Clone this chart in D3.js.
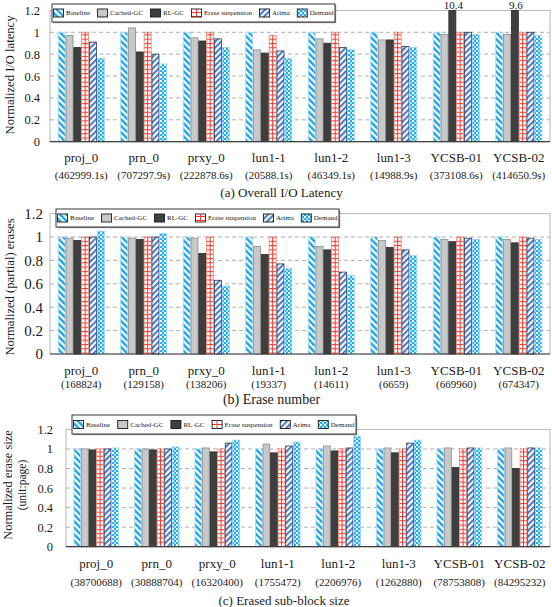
<!DOCTYPE html>
<html><head><meta charset="utf-8">
<script src="https://cdn.jsdelivr.net/npm/d3@7/dist/d3.min.js"></script>
<style>
body{margin:0;background:#fff}
svg{display:block}
text{font-family:"Liberation Serif","Times New Roman",serif;fill:#1a1a1a}
</style>
</head><body><svg id="c" width="552" height="607"></svg>
<script>
// ---------- data ----------
const seriesNames = ["Baseline","Cached-GC","RL-GC","Erase suspension","Arima","Demand"];
const workloads = ["proj_0","prn_0","prxy_0","lun1-1","lun1-2","lun1-3","YCSB-01","YCSB-02"];
const latencyTotals = ["(462999.1s)","(707297.9s)","(222878.6s)","(20588.1s)","(46349.1s)","(14988.9s)","(373108.6s)","(414650.9s)"];
const eraseTotals = ["(168824)","(129158)","(138206)","(19337)","(14611)","(6659)","(669960)","(674347)"];
const sizeTotals = ["(38700688)","(30888704)","(16320400)","(1755472)","(2206976)","(1262880)","(78753808)","(84295232)"];
const yTicks = [0,0.2,0.4,0.6,0.8,1,1.2];

// (a) normalized I/O latency
const latBaseline = [1,1,1,1,1,1,1,1];
const latCachedGC = [0.97,1.04,0.95,0.84,0.94,0.93,0.98,0.98];
const latRLGC     = [0.86,0.82,0.92,0.81,0.90,0.93,10.4,9.6];
const latErase    = [1,1,1,0.97,1,1,1,1];
const latArima    = [0.91,0.80,0.94,0.83,0.86,0.87,1.0,1.0];
const latDemand   = [0.76,0.71,0.86,0.76,0.84,0.86,0.98,0.97];

// (b) normalized (partial) erases
const ersBaseline = [1,1,1,1,1,1,1,1];
const ersCachedGC = [0.99,0.99,0.99,0.92,0.92,0.97,0.98,0.98];
const ersRLGC     = [0.97,0.98,0.86,0.85,0.89,0.91,0.96,0.95];
const ersErase    = [1,1,1,1,1,1,1,1];
const ersArima    = [1.0,1.0,0.63,0.77,0.70,0.89,0.99,0.99];
const ersDemand   = [1.05,1.03,0.58,0.73,0.67,0.84,0.98,0.98];

// (c) normalized erase size
const sizBaseline = [1,1,1,1,1,1,1,1];
const sizCachedGC = [1.0,1.0,1.01,1.05,1.03,1.01,1.01,1.01];
const sizRLGC     = [0.99,0.99,0.97,0.96,0.98,0.96,0.81,0.80];
const sizErase    = [1,1,1,1,1,1,1,1];
const sizArima    = [1.0,1.0,1.06,1.03,1.01,1.06,1.01,1.01];
const sizDemand   = [1.01,1.02,1.09,1.07,1.13,1.09,1.01,1.01];

// ---------- drawing ----------
const svg = d3.select("#c");
const defs = svg.append("defs");

function stripes(id, color, angle, period, thick){
  const p = defs.append("pattern").attr("id",id).attr("patternUnits","userSpaceOnUse")
    .attr("width",period).attr("height",period).attr("patternTransform",`rotate(${angle})`);
  p.append("rect").attr("width",period).attr("height",period).attr("fill","#fff");
  p.append("rect").attr("width",thick).attr("height",period).attr("fill",color);
}
stripes("pBase","#1ea4e4",-45,4.6,2.4);
stripes("pArima","#4a7bc8",45,4.2,2.1);
const pc = defs.append("pattern").attr("id","pDemand").attr("patternUnits","userSpaceOnUse").attr("width",4).attr("height",4);
pc.append("rect").attr("width",4).attr("height",4).attr("fill","#22aeea");
pc.append("rect").attr("width",2).attr("height",2).attr("fill","#ffffff");
pc.append("rect").attr("x",2).attr("y",2).attr("width",2).attr("height",2).attr("fill","#a6e0f8");
const pe = defs.append("pattern").attr("id","pErase").attr("patternUnits","userSpaceOnUse").attr("width",4).attr("height",4.3);
pe.append("rect").attr("width",4).attr("height",4.3).attr("fill","#fff");
pe.append("rect").attr("width",4).attr("height",1).attr("fill","#f2382a");
const pe2 = defs.append("pattern").attr("id","pEraseIcon").attr("patternUnits","userSpaceOnUse").attr("width",10).attr("height",4);
pe2.append("rect").attr("width",10).attr("height",4).attr("fill","#fff");
pe2.append("rect").attr("width",10).attr("height",1).attr("fill","#f2382a");

const styles = [
  {fill:"url(#pBase)", stroke:"#a9d9f2"},
  {fill:"#c8c8c8", stroke:"#8c8c8c"},
  {fill:"#3f3f3f", stroke:"#2a2a2a"},
  {fill:"url(#pErase)", stroke:"#f07a6c"},
  {fill:"url(#pArima)", stroke:"#2c3a58"},
  {fill:"url(#pDemand)", stroke:"#8fd4f2"}
];

const panels = [
  {series:[latBaseline,latCachedGC,latRLGC,latErase,latArima,latDemand], subs:latencyTotals,
   left:50, right:550, top:10.4, bottom:141.7, tickFont:12.5, tickPad:10,
   nameY:157, subY:175, capY:192, capX:281.5, capFont:13, caption:"(a) Overall I/O Latency",
   ylab:["Normalized I/O latency"], ylabX:[10], ylabY:75, ylabFont:[12.6],
   legend:{x:52,y:4,w:283,h:18}, overflow:true},
  {series:[ersBaseline,ersCachedGC,ersRLGC,ersErase,ersArima,ersDemand], subs:eraseTotals,
   left:50, right:550, top:213.6, bottom:354, tickFont:15, tickPad:7,
   nameY:370, subY:384, capY:399, capX:271.5, capFont:14, caption:"(b) Erase number",
   ylab:["Normalized (partial) erases"], ylabX:[10], ylabY:287, ylabFont:[12.6],
   legend:{x:56,y:209,w:283,h:18}},
  {series:[sizBaseline,sizCachedGC,sizRLGC,sizErase,sizArima,sizDemand], subs:sizeTotals,
   left:66, right:550, top:429.4, bottom:546.7, tickFont:12.5, tickPad:13,
   nameY:563, subY:582, capY:600, capX:284, capFont:13, caption:"(c) Erased sub-block size",
   ylab:["Normalized erase size","(unit:page)"], ylabX:[8,22], ylabY:485, ylabFont:[12.4,11.5],
   legend:{x:72,y:415,w:284,h:19}}
];

panels.forEach(P => {
  const g = svg.append("g");
  const x0 = d3.scaleBand().domain(workloads).range([P.left,P.right]).paddingInner(0.25).paddingOuter(0.125);
  const x1 = d3.scaleBand().domain(d3.range(seriesNames.length)).range([0,x0.bandwidth()]).padding(0);
  const y = d3.scaleLinear().domain([0,1.2]).range([P.bottom,P.top]).clamp(true);

  // frame
  g.append("rect").attr("x",P.left).attr("y",y(1.2)).attr("width",P.right-P.left).attr("height",y(0)-y(1.2))
    .attr("fill","none").attr("stroke","#b8b8b8").attr("stroke-width",1);
  // grid
  g.selectAll(".grid").data(yTicks.filter(t=>t>0&&t<1.2)).join("line")
    .attr("x1",P.left).attr("x2",P.right).attr("y1",d=>y(d)).attr("y2",d=>y(d))
    .attr("stroke","#9a9a9a").attr("stroke-dasharray","4,3").attr("stroke-width",0.8);

  // bars
  const rows = [];
  workloads.forEach((w,i)=>P.series.forEach((s,k)=>rows.push({w, k, v:s[i]})));
  const bars = g.append("g");
  bars.selectAll("rect").data(rows).join("rect")
    .attr("x",d=>x0(d.w)+x1(d.k)+0.4).attr("width",x1.bandwidth()-0.8)
    .attr("y",d=>y(d.v)).attr("height",d=>y(0)-y(d.v))
    .attr("fill",d=>styles[d.k].fill).attr("stroke",d=>styles[d.k].stroke).attr("stroke-width",0.8);
  bars.selectAll("line").data(rows.filter(d=>d.k===3)).join("line")
    .attr("x1",d=>x0(d.w)+x1(d.k)+x1.bandwidth()/2).attr("x2",d=>x0(d.w)+x1(d.k)+x1.bandwidth()/2)
    .attr("y1",d=>y(d.v)).attr("y2",y(0)).attr("stroke","#f2382a").attr("stroke-width",1);

  // overflow labels
  if (P.overflow) {
    g.selectAll(".ov").data(rows.filter(d=>d.v>1.2)).join("text")
      .attr("x",d=>x0(d.w)+x1(d.k)+x1.bandwidth()/2+1).attr("y",8.5)
      .attr("text-anchor","middle").attr("font-size",11).text(d=>d.v);
  }

  // bottom axis line
  g.append("line").attr("x1",P.left).attr("x2",P.right).attr("y1",y(0)).attr("y2",y(0))
    .attr("stroke","#404040").attr("stroke-width",1.2);

  // y axis ticks
  const ya = g.append("g").attr("transform",`translate(${P.left},0)`)
    .call(d3.axisLeft(y).tickValues(yTicks).tickSize(0).tickPadding(P.tickPad).tickFormat(d=>String(d)));
  ya.select(".domain").remove();
  ya.selectAll("text").attr("font-size",P.tickFont).attr("font-family",'"Liberation Serif",serif').attr("fill","#1a1a1a");

  // x labels
  g.selectAll(".nm").data(workloads).join("text")
    .attr("x",d=>x0(d)+x0.bandwidth()/2).attr("y",P.nameY).attr("dominant-baseline","central")
    .attr("text-anchor","middle").attr("font-size",13).text(d=>d);
  g.selectAll(".sb").data(P.subs).join("text")
    .attr("x",(d,i)=>x0(workloads[i])+x0.bandwidth()/2).attr("y",P.subY).attr("dominant-baseline","central")
    .attr("text-anchor","middle").attr("font-size",11).text(d=>d);
  g.append("text").attr("x",P.capX).attr("y",P.capY).attr("dominant-baseline","central")
    .attr("text-anchor","middle").attr("font-size",P.capFont).text(P.caption);

  // y label
  P.ylab.forEach((t,i)=>{
    g.append("text").attr("transform",`translate(${P.ylabX[i]},${P.ylabY}) rotate(-90)`)
      .attr("text-anchor","middle").attr("dominant-baseline","central").attr("font-size",P.ylabFont[i]).text(t);
  });

  // legend
  const L = P.legend;
  const lg = g.append("g");
  lg.append("rect").attr("x",L.x+1.2).attr("y",L.y+1.2).attr("width",L.w).attr("height",L.h).attr("fill","#9a9a9a");
  lg.append("rect").attr("x",L.x).attr("y",L.y).attr("width",L.w).attr("height",L.h).attr("fill","#fff").attr("stroke","#222").attr("stroke-width",0.9);
  const texts = seriesNames.map(n => lg.append("text").attr("font-size",7).attr("dominant-baseline","central").text(n));
  const widths = texts.map(t=>t.node().getComputedTextLength());
  const iconW = 10, iconH = 8, tg = 2.5, pad = 1.5;
  const used = d3.sum(widths) + seriesNames.length*(iconW+tg);
  const gap = (L.w - 2*pad - used)/(seriesNames.length-1);
  let cx = L.x + pad;
  const cy = L.y + L.h/2;
  seriesNames.forEach((n,k)=>{
    const f = k===3 ? "url(#pEraseIcon)" : styles[k].fill;
    lg.append("rect").attr("x",cx).attr("y",cy-iconH/2).attr("width",iconW).attr("height",iconH)
      .attr("fill",f).attr("stroke","#1a1a1a").attr("stroke-width",0.9);
    if (k===3) lg.append("line").attr("x1",cx+iconW/2).attr("x2",cx+iconW/2).attr("y1",cy-iconH/2).attr("y2",cy+iconH/2).attr("stroke","#f2382a").attr("stroke-width",1);
    texts[k].attr("x",cx+iconW+tg).attr("y",cy+0.3).raise();
    cx += iconW + tg + widths[k] + gap;
  });
});
</script>
</body></html>
